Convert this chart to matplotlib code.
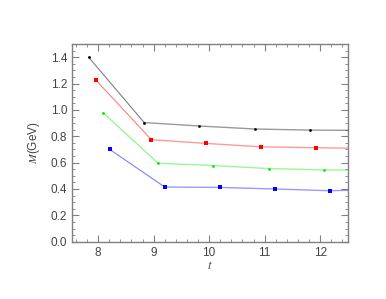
import matplotlib
matplotlib.use("Agg")
import matplotlib.pyplot as plt
from matplotlib.ticker import MultipleLocator

# valores
t_negro = [7.83, 8.83, 9.82, 10.83, 11.81]
m_negro = [1.40, 0.904, 0.878, 0.855, 0.847]
t_rojo = [7.96, 8.96, 9.94, 10.93, 11.93]
m_rojo = [1.227, 0.774, 0.746, 0.72, 0.713]
t_verde = [8.09, 9.08, 10.07, 11.07, 12.06]
m_verde = [0.98, 0.595, 0.578, 0.555, 0.545]
t_azul = [8.21, 9.20, 10.19, 11.18, 12.17]
m_azul = [0.70, 0.415, 0.412, 0.40, 0.387]

# valor de la curva en el borde derecho (t = 12.5)
t_fin = 12.5
m_fin = {"negro": 0.845, "rojo": 0.71, "verde": 0.543, "azul": 0.39}

series = [
    (t_negro, m_negro, "negro", "black", "o", 2.0),
    (t_rojo, m_rojo, "rojo", "red", "s", 3.0),
    (t_verde, m_verde, "verde", "#00ee00", "o", 2.0),
    (t_azul, m_azul, "azul", "blue", "s", 2.2),
]

plt.rcParams["font.family"] = "Liberation Sans"
plt.rcParams["mathtext.fontset"] = "stix"

fig = plt.figure(figsize=(3.86, 2.99), dpi=100)
ax = fig.add_axes([0.1865, 0.1916, 0.715, 0.6612])

for t, m, nombre, color, marca, tam in series:
    ax.plot(t[:2], m[:2], color=color, lw=0.8, alpha=0.5)
    ax.plot(t[1:] + [t_fin], m[1:] + [m_fin[nombre]], color=color, lw=1.0, alpha=0.4)
    ax.plot(t, m, linestyle="none", marker=marca, color=color, markersize=tam,
            markeredgewidth=0)

ax.set_xlim(7.53, 12.5)
ax.set_ylim(0, 1.5)
ax.xaxis.set_major_locator(MultipleLocator(1))
ax.xaxis.set_minor_locator(MultipleLocator(0.2))
ax.yaxis.set_major_locator(MultipleLocator(0.2))
ax.yaxis.set_minor_locator(MultipleLocator(0.05))
ax.yaxis.set_major_formatter(plt.FormatStrFormatter("%.1f"))

gris = "#808080"
for s in ax.spines.values():
    s.set_color(gris)
    s.set_linewidth(1.0)
ax.tick_params(which="both", direction="in", top=True, right=True, colors=gris,
               labelcolor="#444444", labelsize=8.5)
ax.tick_params(which="major", length=5, width=0.8)
ax.tick_params(which="minor", length=2.5, width=0.6)

ax.set_xlabel("$t$", fontsize=9, labelpad=1, color="#444444")
ax.set_ylabel("$M$(GeV)", fontsize=8.5, labelpad=6, color="#444444")

fig.savefig("out.png", dpi=100)
